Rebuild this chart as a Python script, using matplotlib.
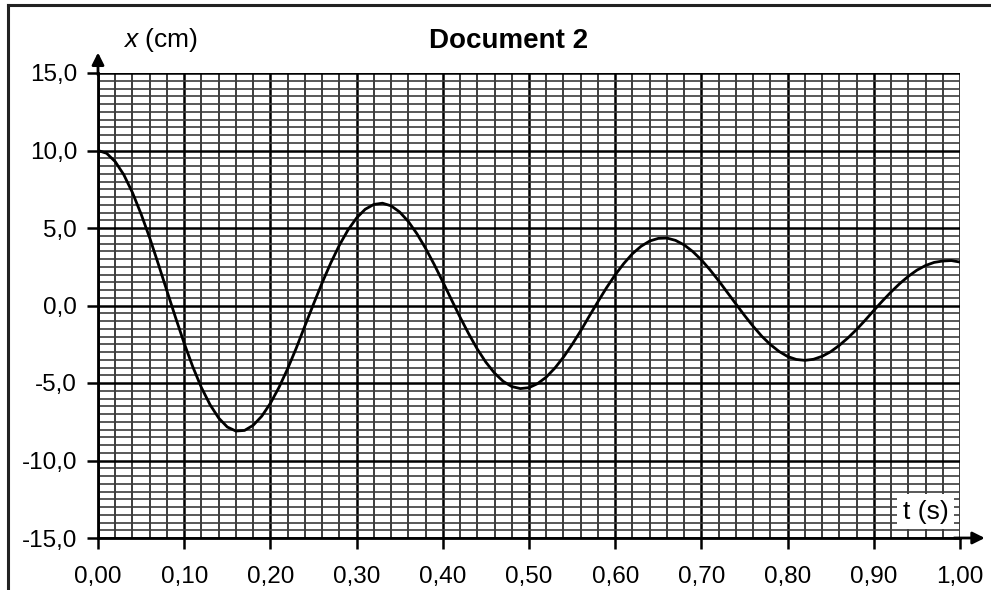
import numpy as np
import matplotlib
matplotlib.use('agg')
import matplotlib.pyplot as plt
from matplotlib.ticker import MultipleLocator, FuncFormatter
from matplotlib.lines import Line2D

matplotlib.rc('font', family=['Liberation Sans', 'DejaVu Sans'], size=16)
matplotlib.rc('mathtext', fontset='custom', it='Liberation Sans:italic', rm='Liberation Sans')

# Values, one point every 0.01 s
t = np.arange(0, 101) / 100
x = [10.00, 9.82, 9.28, 8.43, 7.28, 5.90, 4.36, 2.67, 0.94, -0.78,
     -2.44, -3.96, -5.30, -6.40, -7.26, -7.84, -8.10, -8.06, -7.73, -7.14,
     -6.31, -5.28, -4.08, -2.75, -1.32, 0.09, 1.46, 2.74, 3.89, 4.87,
     5.65, 6.21, 6.52, 6.60, 6.43, 6.03, 5.42, 4.63, 3.69, 2.65,
     1.53, 0.38, -0.75, -1.82, -2.81, -3.66, -4.36, -4.89, -5.23, -5.36,
     -5.30, -5.04, -4.62, -4.04, -3.33, -2.52, -1.63, -0.68, 0.25, 1.15,
     1.98, 2.71, 3.34, 3.82, 4.16, 4.33, 4.35, 4.20, 3.91, 3.48,
     2.94, 2.30, 1.60, 0.85, 0.10, -0.64, -1.34, -1.98, -2.52, -2.96,
     -3.29, -3.48, -3.54, -3.47, -3.28, -2.98, -2.57, -2.09, -1.55, -0.95,
     -0.32, 0.29, 0.87, 1.41, 1.88, 2.28, 2.58, 2.78, 2.87, 2.90,
     2.80]

fig = plt.figure(figsize=(9.91, 5.90), dpi=100)
ax = fig.add_axes([98 / 991, 1 - 538 / 590, 862 / 991, 465 / 590])

ax.set_xlim(0, 1.0)
ax.set_ylim(-15, 15)
ax.xaxis.set_major_locator(MultipleLocator(0.1))
ax.xaxis.set_minor_locator(MultipleLocator(0.02))
ax.yaxis.set_major_locator(MultipleLocator(5))
ax.yaxis.set_minor_locator(MultipleLocator(0.5))
ax.xaxis.set_major_formatter(FuncFormatter(lambda v, p: ('%.2f' % v).replace('.', ',')))
ax.yaxis.set_major_formatter(FuncFormatter(lambda v, p: ('%.1f' % v).replace('.', ',')))

# graph paper grid
ax.xaxis.grid(which='minor', color='#2e2e2e', lw=1.3)
ax.yaxis.grid(which='minor', color='#3c3c3c', lw=1.2)
ax.grid(which='major', color='black', lw=1.8)
ax.set_axisbelow(True)
ax.tick_params(which='minor', length=0)
ax.tick_params(which='major', direction='out', length=8, width=1.8, labelsize=17.5)
ax.tick_params(axis='x', pad=12)
ax.tick_params(axis='y', pad=7)
for s in ['top', 'right']:
    ax.spines[s].set_visible(False)
for s in ['left', 'bottom']:
    ax.spines[s].set_linewidth(2.0)

ax.plot(t, x, color='black', lw=2.0, zorder=3)

# axis arrows
ax.annotate('', xy=(0, 1.05), xytext=(0, 0.99), xycoords='axes fraction',
            arrowprops=dict(arrowstyle='-|>', color='black', lw=2.0, mutation_scale=18))
ax.annotate('', xy=(1.032, 0), xytext=(0.99, 0), xycoords='axes fraction',
            arrowprops=dict(arrowstyle='-|>', color='black', lw=2.0, mutation_scale=18))

ax.text(0.96, -13.3, 't (s)', fontsize=19, ha='center', va='center', zorder=4,
        bbox=dict(facecolor='white', edgecolor='none', pad=4))

fig.text(160 / 991, 1 - 40 / 590, r'$x$ (cm)', fontsize=19, ha='center', va='center')
fig.text(509 / 991, 1 - 41 / 590, 'Document 2', fontsize=20, fontweight='bold',
         ha='center', va='center')

# page frame of the scan
fig.add_artist(Line2D([8 / 991, 1], [1 - 5 / 590, 1 - 5 / 590], color='#222222', lw=2.2))
fig.add_artist(Line2D([8 / 991, 8 / 991], [0, 1 - 5 / 590], color='#222222', lw=2.2))

fig.savefig('out.png', dpi=100)
